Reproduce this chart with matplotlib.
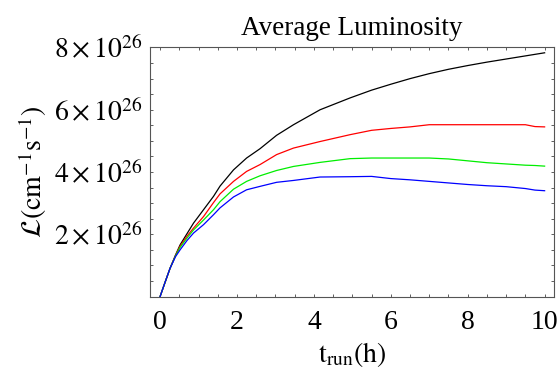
import numpy as np
import matplotlib
matplotlib.use('Agg')
import matplotlib.pyplot as plt
from matplotlib.ticker import MultipleLocator, FuncFormatter

plt.rcParams['font.family'] = ['Liberation Serif', 'DejaVu Serif']
plt.rcParams['mathtext.fontset'] = 'stix'

# run time (h)
t_run = [0, 0.13, 0.26, 0.4, 0.52, 0.7, 0.87, 1.13, 1.39, 1.56, 1.91, 2.25, 2.6, 3.03,
         3.47, 4.16, 4.94, 5.5, 6.0, 6.5, 7.0, 7.5, 8.0, 8.5, 9.0, 9.5, 9.75, 10.0]

# average luminosity in units of 1e26 cm^-1 s^-1
lum_black = [0, 0.46, 0.91, 1.33, 1.66, 2.02, 2.36, 2.79, 3.22, 3.55, 4.07, 4.45, 4.75, 5.18,
             5.52, 6.00, 6.38, 6.63, 6.82, 7.00, 7.16, 7.30, 7.42, 7.53, 7.63, 7.73, 7.78, 7.83]
lum_red = [0, 0.46, 0.91, 1.31, 1.62, 1.94, 2.20, 2.57, 3.02, 3.30, 3.70, 4.02, 4.24, 4.56,
           4.77, 4.98, 5.20, 5.34, 5.40, 5.45, 5.52, 5.52, 5.52, 5.52, 5.52, 5.52, 5.46, 5.45]
lum_green = [0, 0.46, 0.91, 1.30, 1.58, 1.88, 2.14, 2.46, 2.79, 3.05, 3.45, 3.70, 3.88, 4.05,
             4.18, 4.31, 4.43, 4.45, 4.45, 4.45, 4.45, 4.42, 4.36, 4.30, 4.26, 4.22, 4.21, 4.19]
lum_blue = [0, 0.46, 0.91, 1.28, 1.50, 1.80, 2.04, 2.31, 2.63, 2.85, 3.20, 3.43, 3.54, 3.67,
            3.73, 3.84, 3.85, 3.86, 3.79, 3.75, 3.70, 3.65, 3.60, 3.56, 3.53, 3.47, 3.42, 3.40]

series = [(lum_black, 'black'), (lum_red, '#ff0000'),
          (lum_green, '#00ee00'), (lum_blue, '#0000ff')]

fig = plt.figure(figsize=(5.6, 3.74), dpi=100)
ax = fig.add_axes([0.268, 0.207, 0.721, 0.666])

for vals, col in series:
    ax.plot(t_run, np.array(vals) * 1e26, color=col, lw=0.9)

ax.set_xlim(-0.26, 10.24)
ax.set_ylim(0, 8.0e26)

ax.xaxis.set_major_locator(MultipleLocator(2))
ax.xaxis.set_minor_locator(MultipleLocator(0.5))
ax.yaxis.set_minor_locator(MultipleLocator(0.5e26))
ax.set_yticks([2e26, 4e26, 6e26, 8e26])
ax.yaxis.set_major_formatter(FuncFormatter(lambda v, p: r'$%d\times10^{26}$' % round(v / 1e26)))
ax.xaxis.set_major_formatter(FuncFormatter(lambda v, p: '%d' % round(v)))

ax.tick_params(which='both', direction='in', top=True, right=True,
               length=2.5, width=0.6, color='#444444')
ax.tick_params(axis='x', labelsize=20, pad=10)
ax.tick_params(axis='y', labelsize=20, pad=5)
for s in ax.spines.values():
    s.set_color('#555555')
    s.set_linewidth(0.8)

ax.set_title('Average Luminosity', fontsize=19.5, pad=9)
ax.set_xlabel(r'$\mathrm{t}_{\mathrm{run}}\mathrm{(h)}$', fontsize=20, labelpad=3)
ax.set_ylabel(r'$\mathcal{L}(\mathrm{cm}^{-1}\mathrm{s}^{-1})$', fontsize=20, labelpad=4)

fig.savefig('out.png', dpi=100)
